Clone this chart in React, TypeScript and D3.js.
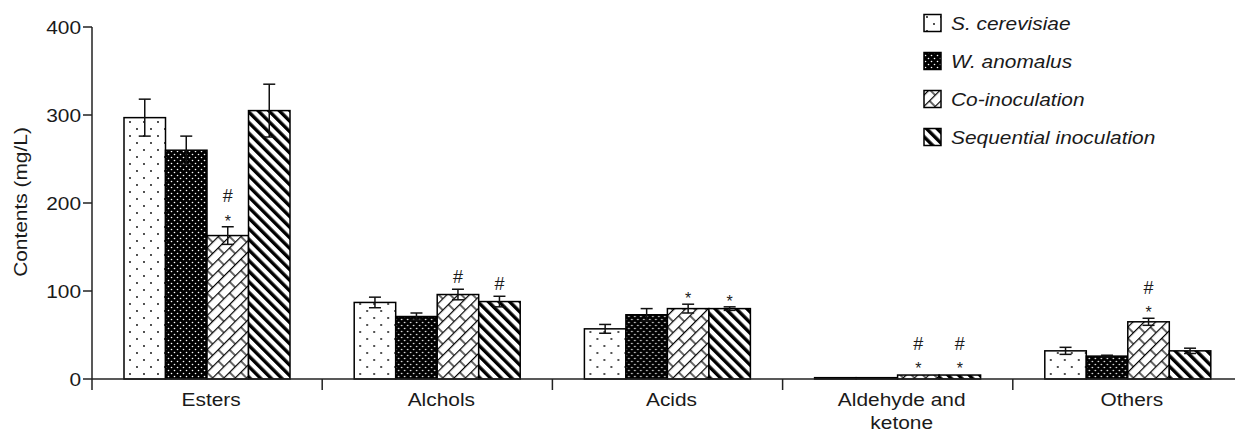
import React from "react";
import * as d3 from "d3";

const categories = ["Esters", "Alchols", "Acids", "Aldehyde and\nketone", "Others"];
const seriesNames = ["S. cerevisiae", "W. anomalus", "Co-inoculation", "Sequential inoculation"];
const scValues = [297, 87, 57, 1.5, 32];
const waValues = [260, 71, 73, 1.5, 26];
const coValues = [163, 96, 80, 4.5, 65];
const seqValues = [305, 88, 80, 4.5, 32];
const scErr = [21, 6, 5, 0.3, 4];
const waErr = [16, 4, 7, 0.3, 1];
const coErr = [10, 6, 5, 0.5, 4];
const seqErr = [30, 6, 2, 0.5, 3];
const coMarks = ["#*", "#", "*", "#*", "#*"];
const seqMarks = ["", "#", "*", "#*", ""];
const yTicks = [0, 100, 200, 300, 400];

const W = 1235;
const H = 433;
const TXT = "#1a1a1a";
const FONT = "'Liberation Sans', Arial, sans-serif";
const SX = 1.13;

export default function App() {
  const values = [scValues, waValues, coValues, seqValues];
  const errs = [scErr, waErr, coErr, seqErr];
  const marks = [categories.map(() => ""), categories.map(() => ""), coMarks, seqMarks];
  const y = d3.scaleLinear().domain([0, 400]).range([379, 27]);
  const x0 = d3.scaleBand<string>().domain(categories).range([92, 1243]).padding(0);
  const x1 = d3.scaleBand<string>().domain(seriesNames).range([32, 198]).padding(0);
  const fills = ["url(#pSc)", "url(#pWa)", "url(#pCo)", "url(#pSeq)"];

  return (
    <svg width={W} height={H} style={{ position: "absolute", left: 0, top: 0, background: "#fff" }} fontFamily={FONT}>
      <defs>
        <pattern id="pSc" width={14} height={14} patternUnits="userSpaceOnUse">
          <rect width={14} height={14} fill="#fff" />
          <circle cx={3} cy={3} r={0.9} fill="#000" />
          <circle cx={10} cy={10} r={0.9} fill="#000" />
        </pattern>
        <pattern id="pWa" width={6} height={6} patternUnits="userSpaceOnUse">
          <rect width={6} height={6} fill="#000" />
          <circle cx={1.5} cy={1.5} r={0.8} fill="#fff" />
          <circle cx={4.5} cy={4.5} r={0.8} fill="#fff" />
        </pattern>
        <pattern id="pCo" width={16} height={16} patternUnits="userSpaceOnUse" patternTransform="rotate(-45)">
          <rect width={16} height={16} fill="#fff" />
          <line x1={0} y1={0.6} x2={16} y2={0.6} stroke="#000" strokeWidth={1.2} />
          <line x1={0} y1={8.6} x2={16} y2={8.6} stroke="#000" strokeWidth={1.2} />
          <line x1={2} y1={0} x2={2} y2={8} stroke="#000" strokeWidth={1.2} />
          <line x1={10} y1={8} x2={10} y2={16} stroke="#000" strokeWidth={1.2} />
        </pattern>
        <pattern id="pSeq" width={7.5} height={7.5} patternUnits="userSpaceOnUse" patternTransform="rotate(-45)">
          <rect width={7.5} height={7.5} fill="#fff" />
          <rect x={0} y={0} width={3.4} height={7.5} fill="#000" />
        </pattern>
      </defs>

      {/* bars */}
      {categories.map((c, ci) => (
        <g key={c} transform={`translate(${x0(c)},0)`}>
          {seriesNames.map((s, si) => {
            const v = values[si][ci];
            const e = errs[si][ci];
            const bx = x1(s)!;
            const bw = x1.bandwidth();
            const cx = bx + bw / 2;
            const top = y(v + e);
            const m = marks[si][ci];
            const hasStar = m.includes("*");
            const hasHash = m.includes("#");
            const starY = top - 9;
            const hashY = hasStar ? starY - 22 : top - 13;
            return (
              <g key={s}>
                <rect x={bx} y={y(v)} width={bw} height={y(0) - y(v)} fill={fills[si]} stroke="#000" strokeWidth={1.5} />
                {e > 0.6 && (
                  <g stroke="#111" strokeWidth={1.5}>
                    <line x1={cx} x2={cx} y1={y(v - e)} y2={y(v + e)} />
                    <line x1={cx - 6} x2={cx + 6} y1={y(v + e)} y2={y(v + e)} />
                    <line x1={cx - 6} x2={cx + 6} y1={y(v - e)} y2={y(v - e)} />
                  </g>
                )}
                {hasStar && (
                  <text x={cx} y={starY} dy="0.55em" textAnchor="middle" fontSize={16} fill={TXT}>*</text>
                )}
                {hasHash && (
                  <text x={cx} y={hashY} dy="0.36em" textAnchor="middle" fontSize={18} fill={TXT}>#</text>
                )}
              </g>
            );
          })}
        </g>
      ))}

      {/* axes */}
      <g stroke="#222" strokeWidth={1.5} fill="none">
        <line x1={92} x2={92} y1={27} y2={390} />
        <line x1={92} x2={1243} y1={379} y2={379} />
        {yTicks.map((t) => (
          <line key={t} x1={83} x2={92} y1={y(t)} y2={y(t)} />
        ))}
        {categories.slice(1).map((c) => (
          <line key={c} x1={x0(c)} x2={x0(c)} y1={379} y2={390} />
        ))}
      </g>
      {yTicks.map((t) => (
        <text key={t} transform={`translate(81,${y(t)}) scale(${SX},1)`} dy="0.36em" textAnchor="end" fontSize={18.5} fill={TXT}>
          {t}
        </text>
      ))}
      <text transform={`translate(27,202) rotate(-90) scale(${SX},1)`} textAnchor="middle" fontSize={18.5} fill={TXT}>
        Contents (mg/L)
      </text>
      {categories.map((c) => (
        <text key={c} transform={`translate(${x0(c)! + x0.bandwidth() / 2 + 4},406) scale(${SX},1)`} textAnchor="middle" fontSize={18.5} fill={TXT}>
          {c.split("\n").map((line, li) => (
            <tspan key={li} x={0} dy={li === 0 ? 0 : 23}>{line}</tspan>
          ))}
        </text>
      ))}

      {/* legend */}
      {seriesNames.map((s, si) => {
        const cy = 23 + si * 38;
        return (
          <g key={s}>
            <rect x={924} y={cy - 8.5} width={17} height={17} fill={fills[si]} stroke="#000" strokeWidth={1.5} />
            <text transform={`translate(951,${cy}) scale(${SX},1)`} dy="0.36em" fontSize={18.5} fontStyle="italic" fill={TXT}>
              {s}
            </text>
          </g>
        );
      })}
    </svg>
  );
}
